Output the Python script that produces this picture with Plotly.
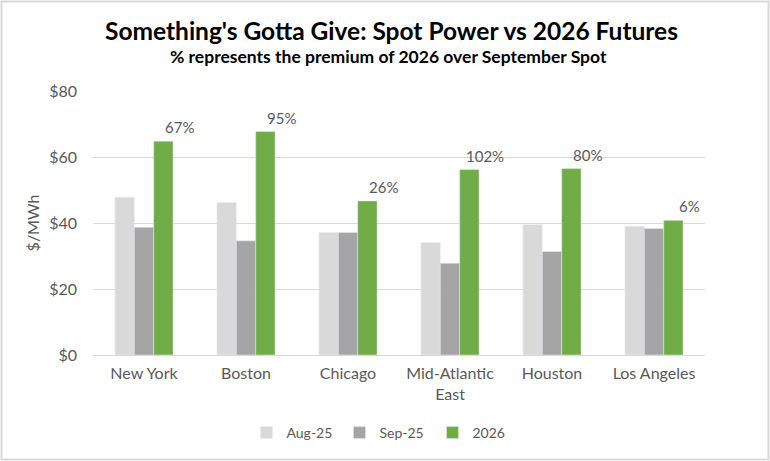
import plotly.graph_objects as go

# values ($/MWh)
markets = ["New York", "Boston", "Chicago", "Mid-Atlantic<br>East", "Houston", "Los Angeles"]
aug_25 = [47.8, 46.2, 37.1, 34.1, 39.5, 39.0]
sep_25 = [38.7, 34.6, 37.1, 27.8, 31.4, 38.3]
fut_2026 = [64.8, 67.7, 46.7, 56.2, 56.5, 40.8]
premium_labels = ["67%", "95%", "26%", "102%", "80%", "6%"]

FONT = "Lato"
GREY_TXT = "#595959"

W, H = 770, 461
L, R, T, B = 93, 65, 91, 106
pw, ph = W - L - R, H - T - B

fig = go.Figure()
fig.add_trace(go.Bar(x=markets, y=aug_25, name="Aug-25", marker_color="#d9d9d9"))
fig.add_trace(go.Bar(x=markets, y=sep_25, name="Sep-25", marker_color="#a5a5a5"))
fig.add_trace(go.Bar(x=markets, y=fut_2026, name="2026", marker_color="#70ad47"))

# premium labels sit just above and right of the 2026 bar
for m, v, lab in zip(markets, fut_2026, premium_labels):
    fig.add_annotation(x=m, y=v, text=lab, showarrow=False, xref="x", yref="y",
                       xshift=35, yshift=3, yanchor="bottom",
                       font=dict(family=FONT, size=15, color=GREY_TXT))

fig.add_annotation(x=(391 - L) / pw, y=1 + 60 / ph, xref="paper", yref="paper", showarrow=False,
                   text="<b>Something's Gotta Give: Spot Power vs 2026 Futures</b>",
                   font=dict(family=FONT, size=24.5, color="black"), yanchor="middle")
fig.add_annotation(x=(388 - L) / pw, y=1 + 34 / ph, xref="paper", yref="paper", showarrow=False,
                   text="<b>% represents the premium of 2026 over September Spot</b>",
                   font=dict(family=FONT, size=17.5, color="black"), yanchor="middle")

# outer chart border
fig.add_shape(type="rect", xref="paper", yref="paper",
              x0=-(L - 1.5) / pw, x1=1 + (R - 1.5) / pw,
              y0=-(B - 1.5) / ph, y1=1 + (T - 1.5) / ph,
              line=dict(color="#d9d9d9", width=2))

fig.update_layout(
    width=W, height=H,
    margin=dict(l=L, r=R, t=T, b=B),
    plot_bgcolor="white", paper_bgcolor="white",
    barmode="group", bargap=0.43, bargroupgap=0,
    font=dict(family=FONT, size=15, color=GREY_TXT),
    legend=dict(orientation="h", x=(386 - L) / pw, xanchor="center", y=-(433 - (T + ph)) / ph,
                yanchor="middle", itemwidth=30, entrywidth=48,
                font=dict(family=FONT, size=14, color=GREY_TXT)),
    showlegend=True,
)
fig.update_xaxes(showgrid=False, showline=True, linecolor="#d9d9d9", ticks="",
                 ticklabelstandoff=4,
                 tickfont=dict(family=FONT, size=16, color=GREY_TXT))
fig.update_yaxes(range=[0, 80], dtick=20, tickprefix="$", showgrid=True, gridcolor="#d9d9d9",
                 zeroline=False, showline=False, ticklabelstandoff=15,
                 title=dict(text="$/MWh", standoff=5, font=dict(family=FONT, size=16, color=GREY_TXT)),
                 tickfont=dict(family=FONT, size=16, color=GREY_TXT))

# page body has a default 8px margin; remove it so the chart fills the window
fig.write_html("out.html", config={"displayModeBar": False},
               post_script="document.body.style.margin='0';")
